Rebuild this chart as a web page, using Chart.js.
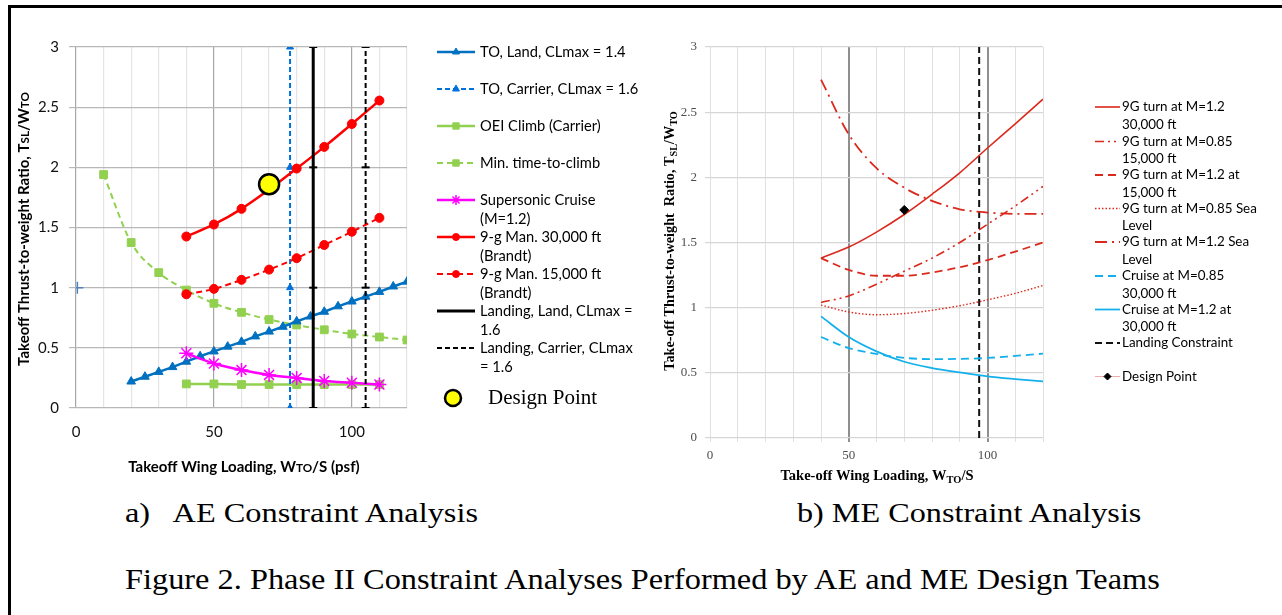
<!DOCTYPE html>
<html>
<head>
<meta charset="utf-8">
<script src="https://cdn.jsdelivr.net/npm/chart.js@4/dist/chart.umd.min.js"></script>
<style>
  body { margin: 0; background: #fff; width: 1282px; height: 615px; overflow: hidden; position: relative; }
  #frameTop { position: absolute; left: 8px; top: 5px; width: 1274px; height: 3px; background: #000; }
  #frameLeft { position: absolute; left: 8px; top: 5px; width: 3px; height: 610px; background: #000; }
  canvas { position: absolute; }
  #aeChart { left: 12px; top: 0; }
  #meChart { left: 645px; top: 0; }
  .cap { position: absolute; font-family: "Liberation Serif", "Times New Roman", serif; line-height: 1; white-space: pre; color: #000; transform-origin: 0 0; }
  #capA { left: 125px; top: 499px; font-size: 28px; transform: scaleX(1.155); }
  #capB { left: 797px; top: 499px; font-size: 28px; transform: scaleX(1.15); }
  #capFig { left: 125px; top: 566px; font-size: 28.5px; transform: scaleX(1.135); }
</style>
</head>
<body>
<div id="frameTop"></div>
<div id="frameLeft"></div>
<canvas id="aeChart" width="628" height="490"></canvas>
<canvas id="meChart" width="637" height="490"></canvas>
<div class="cap" id="capA">a)   AE Constraint Analysis</div>
<div class="cap" id="capB">b) ME Constraint Analysis</div>
<div class="cap" id="capFig">Figure 2. Phase II Constraint Analyses Performed by AE and ME Design Teams</div>

<script>
"use strict";

// ---- a) AE constraint analysis data ----
const aeTOLandX = [20, 25, 30, 35, 40, 45, 50, 55, 60, 65, 70, 75, 80, 85, 90, 95, 100, 105, 110, 115, 120];
const aeTOLandY = [0.22, 0.26, 0.30, 0.34, 0.385, 0.43, 0.47, 0.51, 0.55, 0.595, 0.635, 0.675, 0.72, 0.76, 0.80, 0.845, 0.885, 0.925, 0.965, 1.01, 1.05];
const aeOEIX = [40, 50, 60, 70, 80, 90, 100, 110];
const aeOEIY = [0.20, 0.20, 0.195, 0.195, 0.195, 0.195, 0.195, 0.195];
const aeClimbX = [10, 20, 30, 40, 50, 60, 70, 80, 90, 100, 110, 120];
const aeClimbY = [1.94, 1.375, 1.125, 0.98, 0.87, 0.795, 0.735, 0.69, 0.65, 0.615, 0.59, 0.565];
const aeSuperX = [40, 50, 60, 70, 80, 90, 100, 110];
const aeSuperY = [0.455, 0.37, 0.315, 0.275, 0.25, 0.225, 0.21, 0.195];
const aeMan30X = [40, 50, 60, 70, 80, 90, 100, 110];
const aeMan30Y = [1.425, 1.525, 1.655, 1.815, 1.99, 2.17, 2.36, 2.555];
const aeMan15X = [40, 50, 60, 70, 80, 90, 100, 110];
const aeMan15Y = [0.945, 0.99, 1.065, 1.15, 1.245, 1.355, 1.465, 1.58];
const aeVertYs = [0, 1, 2, 3];
const aeTOCarrierX = 77.6;
const aeLandLandX = 86;
const aeLandCarrierX = 105;
const aeStrayPoint = { x: 0.5, y: 1 };
const aeDesignPoint = { x: 70, y: 1.86 };

// ---- b) ME constraint analysis data ----
const meX = [40, 50, 60, 70, 80, 90, 100, 110, 120];
const me9gM12at30k = [1.38, 1.465, 1.58, 1.715, 1.87, 2.035, 2.225, 2.41, 2.60];
const me9gM085at15k = [1.04, 1.09, 1.18, 1.28, 1.38, 1.50, 1.64, 1.78, 1.93];
const me9gM12at15k = [1.38, 1.29, 1.245, 1.245, 1.27, 1.31, 1.365, 1.43, 1.50];
const me9gM085atSL = [1.02, 0.967, 0.946, 0.955, 0.98, 1.015, 1.06, 1.11, 1.17];
const me9gM12atSL = [2.75, 2.33, 2.07, 1.92, 1.82, 1.755, 1.73, 1.72, 1.72];
const meCruiseM085 = [0.775, 0.69, 0.645, 0.615, 0.605, 0.607, 0.614, 0.63, 0.647];
const meCruiseM12 = [0.933, 0.775, 0.665, 0.585, 0.537, 0.503, 0.473, 0.452, 0.434];
const meLandingX = 97;
const meLandingYs = [0, 3];
const meDesignPoint = { x: 70, y: 1.75 };

const yTicks = [0, 0.5, 1, 1.5, 2, 2.5, 3];
const xLabelled = [0, 50, 100];

// helpers
const pts = (xs, ys) => xs.map((x, i) => ({ x: x, y: ys[i] }));
const vline = (x, ys) => ys.map(y => ({ x: x, y: y }));

// draw text made of normal / small-caps / subscript parts
function drawRich(ctx, t) {
  const fam = t.family, wt = t.weight || 'normal';
  const sizes = { n: t.size, sc: t.size * 0.78, sub: t.size * 0.72 };
  const shift = { n: 0, sc: 0, sub: t.size * 0.22 };
  let total = 0;
  const widths = t.parts.map(p => {
    ctx.font = wt + ' ' + sizes[p[1]] + 'px ' + fam;
    const w = ctx.measureText(p[0]).width;
    total += w;
    return w;
  });
  ctx.save();
  ctx.translate(t.x, t.y);
  if (t.rot) ctx.rotate(t.rot);
  ctx.fillStyle = t.color || '#000';
  ctx.textBaseline = 'alphabetic';
  ctx.textAlign = 'left';
  let cx = -total / 2;
  const base = t.size * 0.35;
  t.parts.forEach((p, i) => {
    ctx.font = wt + ' ' + sizes[p[1]] + 'px ' + fam;
    ctx.fillText(p[0], cx, base + shift[p[1]]);
    cx += widths[i];
  });
  ctx.restore();
}

const decoPlugin = {
  id: 'deco',
  afterDraw(chart, args, opts) {
    const ctx = chart.ctx;
    (opts.titles || []).forEach(t => drawRich(ctx, t));
    const lg = opts.legend;
    if (!lg) return;
    lg.entries.forEach(e => {
      const ds = chart.data.datasets[e.ds];
      const y = e.y;
      ctx.save();
      if (!e.noLine) {
        ctx.strokeStyle = e.lineColor || ds.borderColor;
        ctx.lineWidth = e.lineWidth || ds.borderWidth || 1.5;
        ctx.setLineDash(e.dash || ds.borderDash || []);
        ctx.beginPath();
        ctx.moveTo(lg.x0, y);
        ctx.lineTo(lg.x1, y);
        ctx.stroke();
      }
      const r = e.r !== undefined ? e.r : ds.pointRadius;
      if (r > 0) {
        ctx.setLineDash([]);
        ctx.fillStyle = ds.pointBackgroundColor || ds.backgroundColor;
        ctx.strokeStyle = ds.pointBorderColor || ds.borderColor;
        ctx.lineWidth = ds.pointBorderWidth || 1;
        const px = e.px !== undefined ? e.px : (lg.x0 + lg.x1) / 2;
        Chart.helpers.drawPoint(ctx, { pointStyle: ds.pointStyle, rotation: 0, radius: r, borderWidth: ctx.lineWidth }, px, y);
      }
      ctx.fillStyle = '#000';
      ctx.font = e.font || lg.font;
      ctx.textBaseline = 'middle';
      ctx.textAlign = 'left';
      const tx = e.tx !== undefined ? e.tx : lg.tx;
      e.lines.forEach((l, i) => ctx.fillText(l, tx, y + i * lg.lh));
      ctx.restore();
    });
  }
};

const fixedWidth = w => scale => { scale.width = w; };
const fixedHeight = h => scale => { scale.height = h; };

// ---- chart a) ----
const aeBlue = 'rgb(0, 112, 192)';
const aeGreen = 'rgb(146, 208, 80)';
const aeRed = 'rgb(255, 0, 0)';
const aeMagenta = 'rgb(255, 0, 255)';
const sans = 'Lato, "Open Sans", sans-serif';
const serif = '"Liberation Serif", "Times New Roman", serif';

new Chart(document.getElementById('aeChart'), {
  type: 'scatter',
  data: {
    datasets: [
      { label: 'TO, Land, CLmax = 1.4', data: pts(aeTOLandX, aeTOLandY), showLine: true,
        borderColor: aeBlue, backgroundColor: aeBlue, borderWidth: 2.5,
        pointStyle: 'triangle', pointRadius: 5, pointBorderWidth: 1, order: 5 },
      { label: 'TO, Carrier, CLmax = 1.6', data: vline(aeTOCarrierX, aeVertYs), showLine: true,
        borderColor: 'rgb(0, 112, 220)', backgroundColor: 'rgb(0, 112, 220)', borderWidth: 2, borderDash: [5, 3],
        pointStyle: 'triangle', pointRadius: 4, pointBorderWidth: 1, order: 5 },
      { label: 'OEI Climb (Carrier)', data: pts(aeOEIX, aeOEIY), showLine: true,
        borderColor: aeGreen, backgroundColor: aeGreen, borderWidth: 2.5,
        pointStyle: 'rect', pointRadius: 5.5, pointBorderWidth: 1, order: 5 },
      { label: 'Min. time-to-climb', data: pts(aeClimbX, aeClimbY), showLine: true,
        borderColor: aeGreen, backgroundColor: aeGreen, borderWidth: 2, borderDash: [6, 4],
        cubicInterpolationMode: 'monotone', pointStyle: 'rect', pointRadius: 5.5, pointBorderWidth: 1, order: 5 },
      { label: 'Supersonic Cruise (M=1.2)', data: pts(aeSuperX, aeSuperY), showLine: true,
        borderColor: aeMagenta, backgroundColor: aeMagenta, borderWidth: 2.5,
        cubicInterpolationMode: 'monotone', pointStyle: 'star', pointRadius: 7, pointBorderWidth: 1.5, order: 4 },
      { label: '9-g Man. 30,000 ft (Brandt)', data: pts(aeMan30X, aeMan30Y), showLine: true,
        borderColor: aeRed, backgroundColor: aeRed, borderWidth: 2.5,
        cubicInterpolationMode: 'monotone', pointStyle: 'circle', pointRadius: 4.5, pointBorderWidth: 1, order: 4 },
      { label: '9-g Man. 15,000 ft (Brandt)', data: pts(aeMan15X, aeMan15Y), showLine: true,
        borderColor: aeRed, backgroundColor: aeRed, borderWidth: 2, borderDash: [6, 4],
        cubicInterpolationMode: 'monotone', pointStyle: 'circle', pointRadius: 4.5, pointBorderWidth: 1, order: 4 },
      { label: 'Landing, Land, CLmax = 1.6', data: vline(aeLandLandX, aeVertYs), showLine: true,
        borderColor: '#000', backgroundColor: '#000', borderWidth: 3,
        pointStyle: 'line', pointRadius: 4, pointBorderWidth: 2, order: 3 },
      { label: 'Landing, Carrier, CLmax = 1.6', data: vline(aeLandCarrierX, aeVertYs), showLine: true,
        borderColor: '#000', backgroundColor: '#000', borderWidth: 2, borderDash: [5, 3],
        pointStyle: 'line', pointRadius: 4, pointBorderWidth: 2, order: 3 },
      { label: 'Design Point', data: [aeDesignPoint], showLine: false,
        borderColor: '#000', backgroundColor: 'rgb(255, 255, 0)', pointBackgroundColor: 'rgb(255, 255, 0)',
        pointStyle: 'circle', pointRadius: 10, pointBorderWidth: 2.5, order: 0 },
      { label: '', data: [aeStrayPoint], showLine: false,
        borderColor: 'rgb(79, 129, 189)', backgroundColor: 'rgb(79, 129, 189)',
        pointStyle: 'cross', pointRadius: 6, pointBorderWidth: 1.5, order: 6 }
    ]
  },
  options: {
    responsive: false,
    animation: false,
    events: [],
    layout: { padding: { left: 0, top: 47, right: 233, bottom: 42 } },
    plugins: {
      legend: { display: false },
      tooltip: { enabled: false },
      deco: {
        titles: [
          { x: 232, y: 467, family: sans, weight: 'bold', size: 15,
            parts: [['Takeoff Wing Loading, W', 'n'], ['TO', 'sc'], ['/S (psf)', 'n']] },
          { x: 12, y: 229, rot: -Math.PI / 2, family: sans, weight: 'bold', size: 15,
            parts: [['Takeoff Thrust-to-weight Ratio, T', 'n'], ['SL', 'sc'], ['/W', 'n'], ['TO', 'sc']] }
        ],
        legend: {
          x0: 425, x1: 463, tx: 468, lh: 19, font: '14.7px ' + sans,
          entries: [
            { ds: 0, y: 52, lines: ['TO, Land, CLmax = 1.4'], r: 4 },
            { ds: 1, y: 89, lines: ['TO, Carrier, CLmax = 1.6'], r: 4 },
            { ds: 2, y: 126, lines: ['OEI Climb (Carrier)'], r: 4.5 },
            { ds: 3, y: 163, lines: ['Min. time-to-climb'], r: 4.5 },
            { ds: 4, y: 200, lines: ['Supersonic Cruise', '(M=1.2)'], r: 5 },
            { ds: 5, y: 237, lines: ['9-g Man. 30,000 ft', '(Brandt)'], r: 3.5 },
            { ds: 6, y: 274, lines: ['9-g Man. 15,000 ft', '(Brandt)'], r: 3.5 },
            { ds: 7, y: 311, lines: ['Landing, Land, CLmax =', '1.6'], r: 0 },
            { ds: 8, y: 348, lines: ['Landing, Carrier, CLmax', '= 1.6'], r: 0 },
            { ds: 9, y: 398, lines: ['Design Point'], noLine: true, r: 8, px: 441, tx: 476, font: '21px ' + serif }
          ]
        }
      }
    },
    scales: {
      x: {
        type: 'linear', min: 0, max: 120,
        afterFit: fixedHeight(40),
        border: { display: false },
        grid: {
          drawTicks: false,
          color: c => (c.tick && c.tick.value % 50 === 0) ? '#a6a6a6' : '#e4e4e4',
          lineWidth: 1.2
        },
        ticks: {
          stepSize: 10, autoSkip: false, maxRotation: 0, padding: 15,
          color: '#111', font: { family: sans, size: 15 },
          callback: v => xLabelled.includes(v) ? String(v) : ''
        }
      },
      y: {
        type: 'linear', min: 0, max: 3,
        afterFit: fixedWidth(64),
        afterBuildTicks: s => { s.ticks = yTicks.map(v => ({ value: v })); },
        border: { display: false },
        grid: { color: '#b8b8b8', lineWidth: 1.2, tickLength: 7 },
        ticks: { padding: 10, color: '#111', font: { family: sans, size: 15 }, callback: v => String(v) }
      }
    }
  },
  plugins: [decoPlugin]
});

// ---- chart b) ----
const meRed = 'rgb(218, 41, 28)';
const meBlue = 'rgb(20, 176, 235)';

new Chart(document.getElementById('meChart'), {
  type: 'scatter',
  data: {
    datasets: [
      { label: '9G turn at M=1.2 30,000 ft', data: pts(meX, me9gM12at30k), showLine: true,
        borderColor: meRed, borderWidth: 1.6, cubicInterpolationMode: 'monotone', pointRadius: 0 },
      { label: '9G turn at M=0.85 15,000 ft', data: pts(meX, me9gM085at15k), showLine: true,
        borderColor: meRed, borderWidth: 1.6, borderDash: [9, 4, 2, 4, 2, 4], cubicInterpolationMode: 'monotone', pointRadius: 0 },
      { label: '9G turn at M=1.2 at 15,000 ft', data: pts(meX, me9gM12at15k), showLine: true,
        borderColor: meRed, borderWidth: 1.8, borderDash: [8, 5], cubicInterpolationMode: 'monotone', pointRadius: 0 },
      { label: '9G turn at M=0.85 Sea Level', data: pts(meX, me9gM085atSL), showLine: true,
        borderColor: meRed, borderWidth: 1.4, borderDash: [1.5, 2], cubicInterpolationMode: 'monotone', pointRadius: 0 },
      { label: '9G turn at M=1.2 Sea Level', data: pts(meX, me9gM12atSL), showLine: true,
        borderColor: meRed, borderWidth: 1.8, borderDash: [12, 5, 2, 5], cubicInterpolationMode: 'monotone', pointRadius: 0 },
      { label: 'Cruise at M=0.85 30,000 ft', data: pts(meX, meCruiseM085), showLine: true,
        borderColor: meBlue, borderWidth: 1.8, borderDash: [8, 5], cubicInterpolationMode: 'monotone', pointRadius: 0 },
      { label: 'Cruise at M=1.2 at 30,000 ft', data: pts(meX, meCruiseM12), showLine: true,
        borderColor: meBlue, borderWidth: 1.8, cubicInterpolationMode: 'monotone', pointRadius: 0 },
      { label: 'Landing Constraint', data: vline(meLandingX, meLandingYs), showLine: true,
        borderColor: '#111', borderWidth: 2, borderDash: [7, 4], pointRadius: 0 },
      { label: 'Design Point', data: [meDesignPoint], showLine: false,
        borderColor: '#000', backgroundColor: '#000', pointStyle: 'rectRot', pointRadius: 4.5, pointBorderWidth: 1, order: -1 }
    ]
  },
  options: {
    responsive: false,
    animation: false,
    events: [],
    layout: { padding: { left: 0, top: 47, right: 239, bottom: 22 } },
    plugins: {
      legend: { display: false },
      tooltip: { enabled: false },
      deco: {
        titles: [
          { x: 232, y: 475, family: serif, weight: 'bold', size: 14.5,
            parts: [['Take-off Wing Loading, W', 'n'], ['TO', 'sub'], ['/S', 'n']] },
          { x: 24, y: 241, rot: -Math.PI / 2, family: serif, weight: 'bold', size: 14.2,
            parts: [['Take-off Thrust-to-weight  Ratio, T', 'n'], ['SL', 'sub'], ['/W', 'n'], ['TO', 'sub']] }
        ],
        legend: {
          x0: 450, x1: 475, tx: 477, lh: 17.5, font: '13.4px ' + sans,
          entries: [
            { ds: 0, y: 107, lines: ['9G turn at M=1.2', '30,000 ft'] },
            { ds: 1, y: 141.5, lines: ['9G turn at M=0.85', '15,000 ft'] },
            { ds: 2, y: 175, lines: ['9G turn at M=1.2 at', '15,000 ft'] },
            { ds: 3, y: 208.5, lines: ['9G turn at M=0.85 Sea', 'Level'] },
            { ds: 4, y: 242, lines: ['9G turn at M=1.2 Sea', 'Level'] },
            { ds: 5, y: 276, lines: ['Cruise at M=0.85', '30,000 ft'] },
            { ds: 6, y: 309.5, lines: ['Cruise at M=1.2 at', '30,000 ft'] },
            { ds: 7, y: 343, lines: ['Landing Constraint'] },
            { ds: 8, y: 376.5, lines: ['Design Point'], lineColor: 'rgb(240, 170, 170)', lineWidth: 1, r: 3.5 }
          ]
        }
      }
    },
    scales: {
      x: {
        type: 'linear', min: 0, max: 120,
        afterFit: fixedHeight(30),
        border: { display: false },
        grid: {
          tickLength: 4,
          color: c => (c.tick && (c.tick.value === 50 || c.tick.value === 100)) ? '#8f8f8f' : '#e0e0e0',
          lineWidth: c => (c.tick && (c.tick.value === 50 || c.tick.value === 100)) ? 2 : 1
        },
        ticks: {
          stepSize: 10, autoSkip: false, maxRotation: 0, padding: 6,
          color: '#4d4d4d', font: { family: serif, size: 13 },
          callback: v => xLabelled.includes(v) ? String(v) : ''
        }
      },
      y: {
        type: 'linear', min: 0, max: 3,
        afterFit: fixedWidth(65),
        afterBuildTicks: s => { s.ticks = yTicks.map(v => ({ value: v })); },
        border: { display: false },
        grid: { color: '#d6d6d6', lineWidth: 1.2, tickLength: 5 },
        ticks: { padding: 8, color: '#4d4d4d', font: { family: serif, size: 13 }, callback: v => String(v) }
      }
    }
  },
  plugins: [decoPlugin]
});
</script>
</body>
</html>
